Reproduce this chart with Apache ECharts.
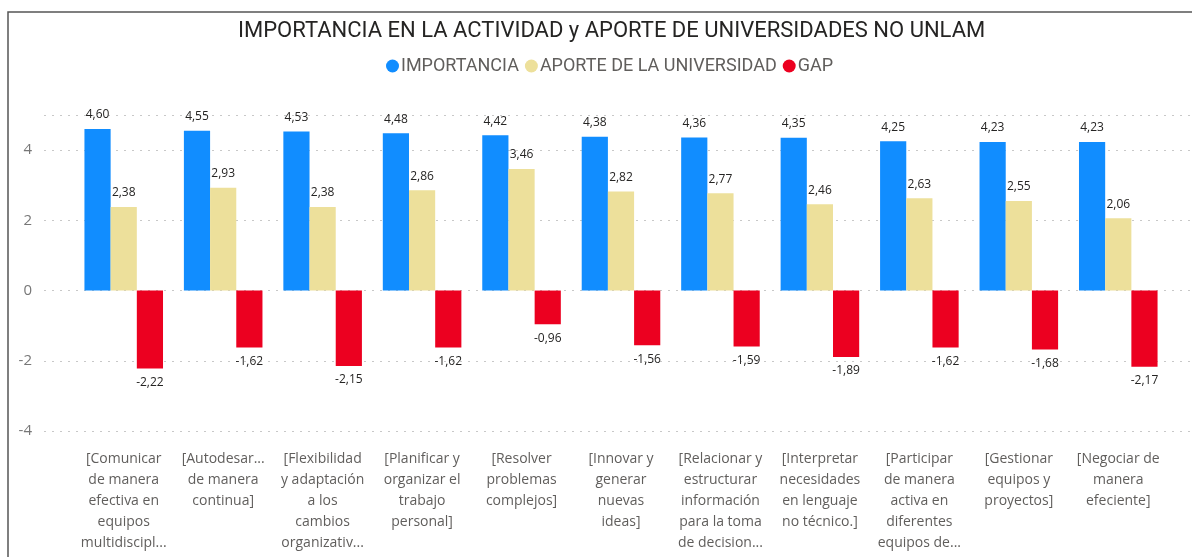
<!DOCTYPE html>
<html>
<head>
<meta charset="utf-8">
<script src="https://cdn.jsdelivr.net/npm/echarts@6/dist/echarts.min.js"></script>
<style>
  html, body { margin: 0; padding: 0; background: #fff; }
  #chart { width: 1192px; height: 557px; }
</style>
</head>
<body>
<div id="chart"></div>
<script>
const categories = [
  '[Comunicar\nde manera\nefectiva en\nequipos\nmultidiscipl...',
  '[Autodesar...\nde manera\ncontinua]',
  '[Flexibilidad\ny adaptación\na los\ncambios\norganizativ...',
  '[Planificar y\norganizar el\ntrabajo\npersonal]',
  '[Resolver\nproblemas\ncomplejos]',
  '[Innovar y\ngenerar\nnuevas\nideas]',
  '[Relacionar y\nestructurar\ninformación\npara la toma\nde decision...',
  '[Interpretar\nnecesidades\nen lenguaje\nno técnico.]',
  '[Participar\nde manera\nactiva en\ndiferentes\nequipos de...',
  '[Gestionar\nequipos y\nproyectos]',
  '[Negociar de\nmanera\nefeciente]'
]
const importancia = [4.60, 4.55, 4.53, 4.48, 4.42, 4.38, 4.36, 4.35, 4.25, 4.23, 4.23]
const aporte = [2.38, 2.93, 2.38, 2.86, 3.46, 2.82, 2.77, 2.46, 2.63, 2.55, 2.06]
const gap = [-2.22, -1.62, -2.15, -1.62, -0.96, -1.56, -1.59, -1.89, -1.62, -1.68, -2.17]
const yTicks = { min: -4, max: 5, interval: 2 }

const colors = ['#118DFF', '#EDE09B', '#EC0020']
const fmt = p => p.value.toFixed(2).replace('.', ',')

function barSeries(name, data, color) {
  return {
    name,
    type: 'bar',
    data: data.map(v => ({
      value: v,
      label: { position: v < 0 ? 'bottom' : 'top' }
    })),
    xAxisIndex: 0,
    yAxisIndex: 0,
    barGap: '0%',
    barCategoryGap: '21%',
    itemStyle: { color },
    label: {
      show: true,
      formatter: fmt,
      distance: 8,
      color: '#252423',
      fontSize: 12,
      fontFamily: 'Open Sans'
    }
  }
}

const chart = echarts.init(document.getElementById('chart'))
chart.setOption({
  animation: false,
  title: {
    text: 'IMPORTANCIA EN LA ACTIVIDAD y APORTE DE UNIVERSIDADES NO UNLAM',
    left: 233,
    top: 15,
    textStyle: { fontFamily: 'Roboto', fontSize: 22, fontWeight: 'normal', color: '#252423' }
  },
  legend: {
    top: 52,
    left: 381,
    icon: 'circle',
    itemWidth: 13,
    itemHeight: 13,
    itemGap: 6,
    textStyle: { fontFamily: 'Roboto', fontSize: 18, color: '#605E5C', padding: [0, 0, 0, -3] },
    data: ['IMPORTANCIA', 'APORTE DE LA UNIVERSIDAD', 'GAP']
  },
  grid: [
    { left: 74, right: 24, top: 115, height: 316 },
    { left: 44, right: 0, top: 115, height: 316 }
  ],
  xAxis: [
    {
      type: 'category',
      gridIndex: 0,
      data: categories,
      axisLine: { show: false },
      axisTick: { show: false },
      axisLabel: {
        interval: 0,
        margin: 18,
        fontFamily: 'Open Sans',
        fontSize: 14,
        lineHeight: 21,
        color: '#605E5C'
      }
    },
    { type: 'category', gridIndex: 1, data: categories, show: false }
  ],
  yAxis: [
    {
      type: 'value',
      gridIndex: 0,
      min: yTicks.min,
      max: yTicks.max,
      interval: yTicks.interval,
      show: false,
      splitLine: { show: false }
    },
    {
      type: 'value',
      gridIndex: 1,
      min: yTicks.min,
      max: yTicks.max,
      interval: yTicks.interval,
      axisLine: { show: false },
      axisTick: { show: false },
      axisLabel: {
        showMaxLabel: false,
        margin: 12,
        fontFamily: 'Open Sans',
        fontSize: 15,
        color: '#777'
      },
      splitLine: { lineStyle: { color: '#C8C8C8', type: [2, 6], width: 1 } }
    }
  ],
  graphic: [{
    type: 'rect',
    shape: { x: 8, y: 12, width: 1200, height: 600 },
    style: { fill: 'none', stroke: '#555', lineWidth: 1.5 },
    silent: true
  }],
  series: [
    barSeries('IMPORTANCIA', importancia, colors[0]),
    barSeries('APORTE DE LA UNIVERSIDAD', aporte, colors[1]),
    barSeries('GAP', gap, colors[2])
  ]
})
</script>
</body>
</html>
